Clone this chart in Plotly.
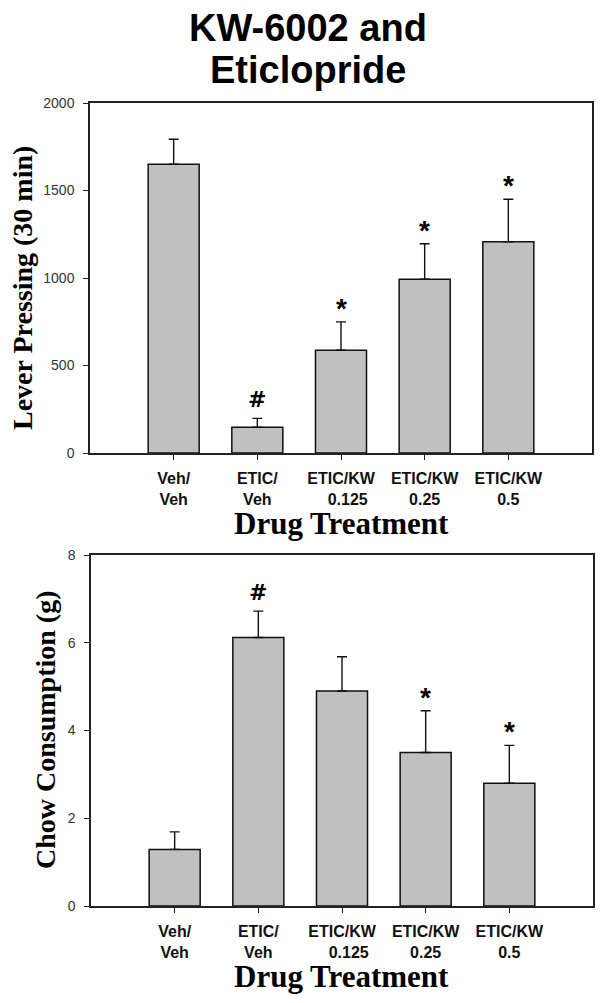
import plotly.graph_objects as go

categories = ["Veh/<br>Veh", "ETIC/<br>Veh", "ETIC/KW<br>   0.125", "ETIC/KW<br>0.25", "ETIC/KW<br>0.5"]
lever_mean = [1650, 147, 587, 993, 1207]
lever_sem = [143, 51, 162, 203, 243]
lever_marks = ["", "#", "*", "*", "*"]
chow_mean = [1.29, 6.12, 4.90, 3.50, 2.80]
chow_sem = [0.40, 0.60, 0.78, 0.95, 0.86]
chow_marks = ["", "#", "", "*", "*"]
title_lines = ["KW-6002 and", "Eticlopride"]

W, H = 608, 1003
xidx = list(range(len(categories)))

fig = go.Figure()
bar_style = dict(marker=dict(color="#c0c0c0", line=dict(color="#111111", width=1.5)),
                 width=0.61, showlegend=False, hoverinfo="skip")
err_style = dict(type="data", symmetric=False, color="#111111", thickness=1.4, width=5)

fig.add_trace(go.Bar(x=xidx, y=lever_mean, xaxis="x", yaxis="y",
                     error_y=dict(array=lever_sem, arrayminus=[0]*5, **err_style), **bar_style))
fig.add_trace(go.Bar(x=xidx, y=chow_mean, xaxis="x2", yaxis="y2",
                     error_y=dict(array=chow_sem, arrayminus=[0]*5, **err_style), **bar_style))

def px_y(p):
    return 1 - p / H

axis_common = dict(showline=True, linecolor="#222222", linewidth=1.5, mirror=True, automargin=False,
                   ticks="outside", tickcolor="#222222", ticklen=5, showgrid=False, zeroline=False)
xfont = dict(family="Liberation Sans, Arial", size=16, color="#111111", weight="bold")
yfont = dict(family="Liberation Sans, Arial", size=14, color="#333333")

fig.update_layout(
    width=W, height=H, margin=dict(l=0, r=0, t=0, b=0, autoexpand=False),
    plot_bgcolor="white", paper_bgcolor="white",
    xaxis=dict(domain=[90 / W, 592 / W], anchor="y", range=[-1, 5],
               tickvals=xidx, ticktext=categories, tickfont=xfont,
               ticklabelstandoff=5, **axis_common),
    yaxis=dict(domain=[px_y(453), px_y(103)], anchor="x", range=[0, 2000],
               tickvals=[0, 500, 1000, 1500, 2000], tickfont=yfont,
               ticklabelstandoff=6, **axis_common),
    xaxis2=dict(domain=[91 / W, 593 / W], anchor="y2", range=[-1, 5],
                tickvals=xidx, ticktext=categories, tickfont=xfont,
                ticklabelstandoff=5, **axis_common),
    yaxis2=dict(domain=[px_y(906), px_y(555)], anchor="x2", range=[0, 8],
                tickvals=[0, 2, 4, 6, 8], tickfont=yfont,
                ticklabelstandoff=6, **axis_common),
)

anns = []
for i, line in enumerate(title_lines):
    anns.append(dict(text="<b>%s</b>" % line, xref="paper", yref="paper",
                     x=308 / W, y=px_y([28, 70][i]), xanchor="center", yanchor="middle",
                     showarrow=False, font=dict(family="Liberation Sans, Arial", size=38, color="black")))

serif = "Liberation Serif, Times New Roman"
anns.append(dict(text="<b>Lever Pressing (30 min)</b>", xref="paper", yref="paper",
                 x=22 / W, y=px_y(288), textangle=-90, showarrow=False,
                 xanchor="center", yanchor="middle", font=dict(family=serif, size=28, color="black")))
anns.append(dict(text="<b>Chow Consumption (g)</b>", xref="paper", yref="paper",
                 x=45 / W, y=px_y(730), textangle=-90, showarrow=False,
                 xanchor="center", yanchor="middle", font=dict(family=serif, size=28, color="black")))
for yc in [523, 976]:
    anns.append(dict(text="<b>Drug Treatment</b>", xref="paper", yref="paper",
                     x=341 / W, y=px_y(yc), showarrow=False, xanchor="center", yanchor="middle",
                     font=dict(family=serif, size=31, color="black")))

def marks(means, sems, labels, xr, yr):
    for i, lab in enumerate(labels):
        if not lab:
            continue
        if lab == "#":
            f = dict(family="DejaVu Sans", size=22, color="black", weight="bold")
            txt, ys = "#", 4
        else:
            f = dict(family="Liberation Sans, Arial", size=28, color="black")
            txt, ys = "<b>*</b>", -4
        anns.append(dict(text=txt, x=xidx[i], y=means[i] + sems[i], xref=xr, yref=yr,
                         showarrow=False, xanchor="center", yanchor="bottom", yshift=ys, font=f))

marks(lever_mean, lever_sem, lever_marks, "x", "y")
marks(chow_mean, chow_sem, chow_marks, "x2", "y2")

fig.update_layout(annotations=anns)
fig.write_html("out.html", config={"displayModeBar": False},
               post_script="document.body.style.margin='0px';")
